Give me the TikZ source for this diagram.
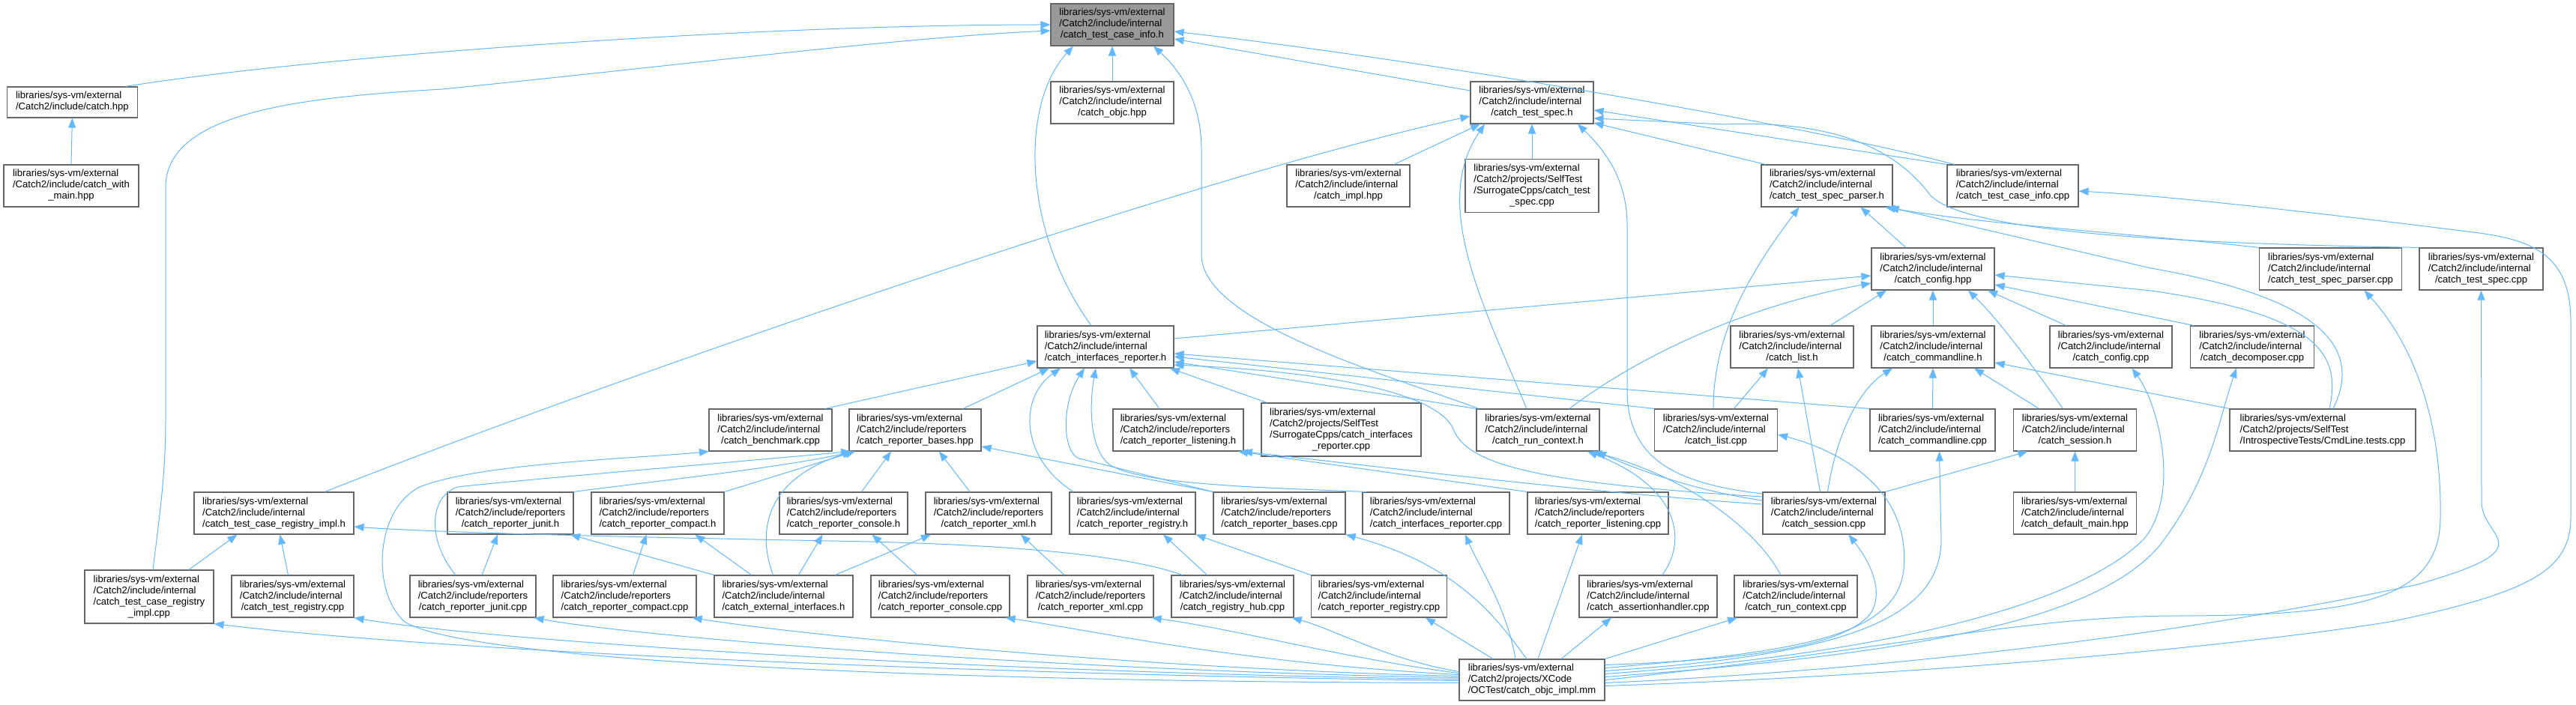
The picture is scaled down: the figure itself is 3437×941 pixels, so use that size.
\documentclass[tikz,border=0pt]{standalone}
\usepackage{fontspec}
\setmainfont{Liberation Sans}
\usetikzlibrary{arrows.meta}
\definecolor{edgeblue}{HTML}{63B8FF}
\definecolor{bordergray}{HTML}{666666}
\definecolor{rootgray}{HTML}{999999}
\newcommand{\LSV}{libraries/sys-vm/external}
\newcommand{\CII}{/Catch2/include/internal}
\newcommand{\CIR}{/Catch2/include/reporters}
\newcommand{\CPS}{/Catch2/projects/SelfTest}
\newcommand{\Lii}[2]{\begin{tabular}{@{}l@{}}#1\\\multicolumn{1}{@{}c@{}}{#2}\end{tabular}}
\newcommand{\Liii}[3]{\begin{tabular}{@{}l@{}}#1\\#2\\\multicolumn{1}{@{}c@{}}{#3}\end{tabular}}
\newcommand{\Liv}[4]{\begin{tabular}{@{}l@{}}#1\\#2\\#3\\\multicolumn{1}{@{}c@{}}{#4}\end{tabular}}
\tikzset{
  box/.style={draw=bordergray, fill=white, line width=1.1pt, inner sep=0pt, text=black,
    font=\fontsize{13.1pt}{15pt}\selectfont},
  root/.style={box, fill=rootgray},
  hII/.style={minimum height=41pt},
  hIII/.style={minimum height=56pt},
  hIV/.style={minimum height=71pt},
  edge/.style={draw=edgeblue, line width=1pt, -{Triangle[length=13pt,width=10pt]}},
}
\begin{document}
\begin{tikzpicture}[x=1pt,y=-1pt]
\fill[white] (0,0) rectangle (3437,941);
\useasboundingbox (0,0) rectangle (3437,941);
% rank 0
\node[root,hIII,minimum width=164pt] (M) at (1484,33) {\Liii{\LSV}{\CII}{/catch\_test\_case\_info.h}};
% rank 1
\node[box,hII,minimum width=174pt] (chpp) at (96.4,136.5) {\Lii{\LSV}{/Catch2/include/catch.hpp}};
\node[box,hIII,minimum width=164pt] (objc) at (1484,137) {\Liii{\LSV}{\CII}{/catch\_objc.hpp}};
\node[box,hIII,minimum width=164pt] (TS) at (2044,137) {\Liii{\LSV}{\CII}{/catch\_test\_spec.h}};
% rank 2
\node[box,hIII,minimum width=180pt] (cwm) at (95,248) {\Liii{\LSV}{/Catch2/include/catch\_with}{\_main.hpp}};
\node[box,hIII,minimum width=164pt] (impl) at (1799,248) {\Liii{\LSV}{\CII}{/catch\_impl.hpp}};
\node[box,hIV,minimum width=178pt] (sctsc) at (2044,248) {\Liv{\LSV}{\CPS}{/SurrogateCpps/catch\_test}{\_spec.cpp}};
\node[box,hIII,minimum width=175pt] (TSP) at (2437.5,248) {\Liii{\LSV}{\CII}{/catch\_test\_spec\_parser.h}};
\node[box,hIII,minimum width=175pt] (tcicpp) at (2685.5,248) {\Liii{\LSV}{\CII}{/catch\_test\_case\_info.cpp}};
% rank 3
\node[box,hIII,minimum width=164pt] (CFG) at (2579,359) {\Liii{\LSV}{\CII}{/catch\_config.hpp}};
\node[box,hIII,minimum width=190pt] (tspcpp) at (3109.5,359) {\Liii{\LSV}{\CII}{/catch\_test\_spec\_parser.cpp}};
\node[box,hIII,minimum width=165pt] (tscpp) at (3310.5,359) {\Liii{\LSV}{\CII}{/catch\_test\_spec.cpp}};
% rank 4
\node[box,hIII,minimum width=182pt] (IR) at (1475,463) {\Liii{\LSV}{\CII}{/catch\_interfaces\_reporter.h}};
\node[box,hIII,minimum width=164pt] (LH) at (2391,463) {\Liii{\LSV}{\CII}{/catch\_list.h}};
\node[box,hIII,minimum width=164pt] (CLH) at (2579,463) {\Liii{\LSV}{\CII}{/catch\_commandline.h}};
\node[box,hIII,minimum width=163pt] (cfgcpp) at (2816.5,463) {\Liii{\LSV}{\CII}{/catch\_config.cpp}};
\node[box,hIII,minimum width=165pt] (dec) at (3005,463) {\Liii{\LSV}{\CII}{/catch\_decomposer.cpp}};
% rank 5
\node[box,hIII,minimum width=164pt] (bench) at (1028,574) {\Liii{\LSV}{\CII}{/catch\_benchmark.cpp}};
\node[box,hIII,minimum width=176pt] (RBH) at (1221,574) {\Liii{\LSV}{\CIR}{/catch\_reporter\_bases.hpp}};
\node[box,hIII,minimum width=174pt] (RLH) at (1572,574) {\Liii{\LSV}{\CIR}{/catch\_reporter\_listening.h}};
\node[box,hIV,minimum width=213pt] (scir) at (1789.5,573.5) {\Liv{\LSV}{\CPS}{/SurrogateCpps/catch\_interfaces}{\_reporter.cpp}};
\node[box,hIII,minimum width=164pt] (RCH) at (2052,574) {\Liii{\LSV}{\CII}{/catch\_run\_context.h}};
\node[box,hIII,minimum width=164pt] (lcpp) at (2289.5,574) {\Liii{\LSV}{\CII}{/catch\_list.cpp}};
\node[box,hIII,minimum width=167pt] (clcpp) at (2578.5,574) {\Liii{\LSV}{\CII}{/catch\_commandline.cpp}};
\node[box,hIII,minimum width=164pt] (SH) at (2768.5,574) {\Liii{\LSV}{\CII}{/catch\_session.h}};
\node[box,hIII,minimum width=248pt] (cmdl) at (3099,574) {\Liii{\LSV}{\CPS}{/IntrospectiveTests/CmdLine.tests.cpp}};
% rank 6
\node[box,hIII,minimum width=213pt] (RIH) at (365.5,685) {\Liii{\LSV}{\CII}{/catch\_test\_case\_registry\_impl.h}};
\node[box,hIII,minimum width=168pt] (junh) at (681,685) {\Liii{\LSV}{\CIR}{/catch\_reporter\_junit.h}};
\node[box,hIII,minimum width=177pt] (comh) at (877.5,685) {\Liii{\LSV}{\CIR}{/catch\_reporter\_compact.h}};
\node[box,hIII,minimum width=171pt] (conh) at (1125.5,685) {\Liii{\LSV}{\CIR}{/catch\_reporter\_console.h}};
\node[box,hIII,minimum width=168pt] (xmlh) at (1319,685) {\Liii{\LSV}{\CIR}{/catch\_reporter\_xml.h}};
\node[box,hIII,minimum width=168pt] (rrh) at (1511,685) {\Liii{\LSV}{\CII}{/catch\_reporter\_registry.h}};
\node[box,hIII,minimum width=176pt] (rbcpp) at (1707,685) {\Liii{\LSV}{\CIR}{/catch\_reporter\_bases.cpp}};
\node[box,hIII,minimum width=196pt] (ircpp) at (1916,685) {\Liii{\LSV}{\CII}{/catch\_interfaces\_reporter.cpp}};
\node[box,hIII,minimum width=188pt] (rlcpp) at (2132,685) {\Liii{\LSV}{\CIR}{/catch\_reporter\_listening.cpp}};
\node[box,hIII,minimum width=163pt] (scpp) at (2433.5,685) {\Liii{\LSV}{\CII}{/catch\_session.cpp}};
\node[box,hIII,minimum width=164pt] (dmain) at (2768.5,685) {\Liii{\LSV}{\CII}{/catch\_default\_main.hpp}};
% rank 7
\node[box,hIV,minimum width=172pt] (ricpp) at (199,796.5) {\Liv{\LSV}{\CII}{/catch\_test\_case\_registry}{\_impl.cpp}};
\node[box,hIII,minimum width=163pt] (trcpp) at (390.5,796) {\Liii{\LSV}{\CII}{/catch\_test\_registry.cpp}};
\node[box,hIII,minimum width=168pt] (juncpp) at (631,796) {\Liii{\LSV}{\CIR}{/catch\_reporter\_junit.cpp}};
\node[box,hIII,minimum width=191pt] (comcpp) at (833.5,796) {\Liii{\LSV}{\CIR}{/catch\_reporter\_compact.cpp}};
\node[box,hIII,minimum width=185pt] (extif) at (1045.5,796) {\Liii{\LSV}{\CII}{/catch\_external\_interfaces.h}};
\node[box,hIII,minimum width=185pt] (concpp) at (1254.5,796) {\Liii{\LSV}{\CIR}{/catch\_reporter\_console.cpp}};
\node[box,hIII,minimum width=168pt] (xmlcpp) at (1455,796) {\Liii{\LSV}{\CIR}{/catch\_reporter\_xml.cpp}};
\node[box,hIII,minimum width=163pt] (rhub) at (1644.5,796) {\Liii{\LSV}{\CII}{/catch\_registry\_hub.cpp}};
\node[box,hIII,minimum width=181pt] (rrcpp) at (1840,796) {\Liii{\LSV}{\CII}{/catch\_reporter\_registry.cpp}};
\node[box,hIII,minimum width=184pt] (ahcpp) at (2199,796) {\Liii{\LSV}{\CII}{/catch\_assertionhandler.cpp}};
\node[box,hIII,minimum width=164pt] (rccpp) at (2396,796) {\Liii{\LSV}{\CII}{/catch\_run\_context.cpp}};
% rank 8
\node[box,minimum height=55pt,minimum width=194pt] (B) at (2044,907.5) {\Liii{\LSV}{/Catch2/projects/XCode}{/OCTest/catch\_objc\_impl.mm}};

% ---------- edges into M
\draw[edge] (cwm.north) -- (chpp.south);
\draw[edge] ([xshift=71pt]chpp.north) .. controls (420,75) and (1000,33) .. (M.west);
\draw[edge] ([xshift=5pt]ricpp.north) .. controls (214,680) and (221,630) .. (221,560) -- (221,250) .. controls (221,150) and (400,130) .. (590,119) .. controls (900,88) and (1200,50) .. ([yshift=-8pt]M.west);
\draw[edge] (objc.north) -- (M.south);
\draw[edge] ([xshift=-19pt]IR.north) .. controls (1365,310) and (1360,140) .. ([xshift=-52pt]M.south);
\draw[edge] ([xshift=-79pt]RCH.north) .. controls (1850,500) and (1603,430) .. (1603,340) -- (1603,200) .. controls (1603,130) and (1570,90) .. ([xshift=55pt]M.south);
\draw[edge] ([yshift=16pt]TS.west) -- ([yshift=-19pt]M.east);
\draw[edge] ([xshift=-78pt]tcicpp.north) .. controls (2400,165) and (1900,80) .. ([yshift=-9pt]M.east);
% ---------- edges into TS
\draw[edge] ([xshift=68pt]RIH.north) .. controls (733,537) and (1562,243) .. ([yshift=-18pt]TS.west);
\draw[edge] ([xshift=61pt]impl.north) -- ([xshift=-69pt]TS.south);
\draw[edge] ([xshift=-15pt]RCH.north) .. controls (1975,400) and (1910,270) .. ([xshift=-63pt]TS.south);
\draw[edge] (sctsc.north) -- (TS.south);
\draw[edge] ([yshift=26pt]scpp.west) .. controls (2230,645) and (2171,610) .. (2171,520) -- (2171,300) .. controls (2171,230) and (2130,190) .. ([xshift=61pt]TS.south);
\draw[edge] (tcicpp.north west) -- ([yshift=-10pt]TS.east);
\draw[edge] (tscpp.north west) .. controls (2900,325) and (2620,310) .. (2575,260) .. controls (2530,200) and (2450,160) .. (2300,166) -- ([yshift=-21pt]TS.east);
\draw[edge] ([xshift=-82pt]TSP.north) -- ([yshift=-27pt]TS.east);
% ---------- edges into TSP
\draw[edge] ([xshift=-36pt]CFG.north) -- ([xshift=45pt]TSP.south);
\draw[edge] ([xshift=-3.5pt]lcpp.north) .. controls (2286,450) and (2330,370) .. ([xshift=-37pt]TSP.south);
\draw[edge] (tspcpp.north west) .. controls (2850,312) and (2650,300) .. ([xshift=78pt]TSP.south);
\draw[edge] ([xshift=14pt]cmdl.north) .. controls (3150,470) and (3110,400) .. (2870,358) -- ([xshift=83pt]TSP.south);
% ---------- edges into CFG
\draw[edge] ([yshift=11pt]IR.east) -- ([yshift=-9pt]CFG.west);
\draw[edge] ([xshift=42pt]RCH.north) .. controls (2180,480) and (2320,410) .. ([yshift=-19pt]CFG.west);
\draw[edge] ([xshift=51pt]LH.north) -- ([xshift=-62pt]CFG.south);
\draw[edge] (CLH.north) -- (CFG.south);
\draw[edge] ([xshift=-16pt]SH.north) .. controls (2720,500) and (2670,430) .. ([xshift=47pt]CFG.south);
\draw[edge] ([xshift=-60pt]cfgcpp.north) -- ([xshift=73pt]CFG.south);
\draw[edge] ([xshift=9pt]cmdl.north) .. controls (3125,470) and (3090,420) .. (2870,388) -- ([yshift=-8pt]CFG.east);
\draw[edge] ([xshift=-78pt]dec.north) -- ([yshift=-21pt]CFG.east);
% ---------- edges into LH, CLH, SH
\draw[edge] ([xshift=24pt]lcpp.north) -- ([xshift=-32pt]LH.south);
\draw[edge] ([xshift=-5pt]scpp.north) -- ([xshift=8pt]LH.south);
\draw[edge] ([xshift=5pt]scpp.north) .. controls (2450,580) and (2480,520) .. ([xshift=-54pt]CLH.south);
\draw[edge] (clcpp.north) -- (CLH.south);
\draw[edge] ([xshift=-48pt]SH.north) -- ([xshift=55pt]CLH.south);
\draw[edge] (cmdl.north west) -- ([yshift=-21pt]CLH.east);
\draw[edge] (scpp.north east) -- ([xshift=-63pt]SH.south);
\draw[edge] (dmain.north) -- (SH.south);
% ---------- edges into IR
\draw[edge] ([xshift=73pt]bench.north) -- ([yshift=-19pt]IR.west);
\draw[edge] ([xshift=64pt]RBH.north) -- ([xshift=-75pt]IR.south);
\draw[edge] ([xshift=-79pt]rrh.north) .. controls (1360,610) and (1360,530) .. ([xshift=-60pt]IR.south);
\draw[edge] (rbcpp.north west) -- (1440,612) .. controls (1418,605) and (1415,540) .. ([xshift=-28pt]IR.south);
\draw[edge] ([xshift=-93pt]ircpp.north) .. controls (1650,650) and (1520,645) .. (1480,620) .. controls (1450,595) and (1455,530) .. ([xshift=-13pt]IR.south);
\draw[edge] ([xshift=-25pt]RLH.north) -- ([xshift=32pt]IR.south);
\draw[edge] ([xshift=-99pt]scir.north) -- ([xshift=86pt]IR.south);
\draw[edge] (lcpp.north west) -- ([yshift=-13pt]IR.east);
\draw[edge] (clcpp.north west) -- ([yshift=-9pt]IR.east);
\draw[edge] (RCH.north west) -- ([yshift=-20pt]IR.east);
\draw[edge] ([yshift=22pt]scpp.west) .. controls (2050,645) and (1960,620) .. (1940,575) .. controls (1920,520) and (1750,495) .. ([yshift=-24pt]IR.east);
% ---------- edges into RBH
\draw[edge] ([xshift=24pt]conh.north) -- ([xshift=-32pt]RBH.south);
\draw[edge] ([xshift=-25pt]xmlh.north) -- ([xshift=32pt]RBH.south);
\draw[edge] (rbcpp.north west) -- ([yshift=-22pt]RBH.east);
\draw[edge] (junh.north east) .. controls (850,645) and (1040,625) .. ([xshift=-82pt]RBH.south);
\draw[edge] (comh.north east) -- ([xshift=-80pt]RBH.south);
\draw[edge] ([xshift=-14pt]extif.north) .. controls (1010,710) and (1020,640) .. ([xshift=-84pt]RBH.south);
\draw[edge] ([xshift=-23pt]juncpp.north) .. controls (572,725) and (570,665) .. (610,650) .. controls (700,640) and (1000,615) .. ([xshift=-86pt]RBH.south);
% ---------- edges into rank 6 reporter headers
\draw[edge] ([xshift=12pt]juncpp.north) -- ([xshift=-17pt]junh.south);
\draw[edge] (extif.north west) -- ([xshift=80pt]junh.south);
\draw[edge] ([xshift=11pt]comcpp.north) -- ([xshift=-15pt]comh.south);
\draw[edge] ([xshift=-43pt]extif.north) -- ([xshift=50pt]comh.south);
\draw[edge] ([xshift=-31pt]concpp.north) -- ([xshift=38pt]conh.south);
\draw[edge] ([xshift=20pt]extif.north) -- ([xshift=-28pt]conh.south);
\draw[edge] ([xshift=69pt]extif.north) -- ([xshift=-77pt]xmlh.south);
\draw[edge] ([xshift=-35pt]xmlcpp.north) -- ([xshift=43pt]xmlh.south);
\draw[edge] ([xshift=-34pt]rhub.north) -- ([xshift=41pt]rrh.south);
\draw[edge] (rrcpp.north west) -- (rrh.south east);
% ---------- edges into RIH
\draw[edge] ([xshift=53pt]ricpp.north) -- ([xshift=-49pt]RIH.south);
\draw[edge] ([xshift=-6pt]trcpp.north) -- ([xshift=8pt]RIH.south);
\draw[edge] ([xshift=-67pt]rhub.north) .. controls (1500,740) and (1350,728) .. (1160,723) .. controls (900,718) and (600,712) .. ([yshift=-18pt]RIH.east);
% ---------- edges into RCH, RLH
\draw[edge] ([yshift=17pt]scpp.west) .. controls (2260,655) and (2180,625) .. ([xshift=78pt]RCH.south);
\draw[edge] ([xshift=-20pt]rccpp.north) .. controls (2345,710) and (2260,640) .. ([xshift=72pt]RCH.south);
\draw[edge] ([xshift=19pt]ahcpp.north) .. controls (2252,720) and (2240,650) .. ([xshift=66pt]RCH.south);
\draw[edge] (rlcpp.north west) -- ([xshift=80pt]RLH.south);
\draw[edge] ([yshift=12pt]scpp.west) .. controls (2150,660) and (1900,630) .. ([xshift=86pt]RLH.south);
% ---------- edges from B (catch_objc_impl.mm)
\draw[edge] ([yshift=-1pt]B.west) .. controls (1300,900) and (600,870) .. (ricpp.south east);
\draw[edge] ([yshift=1pt]B.west) .. controls (1300,898) and (650,855) .. (trcpp.south east);
\draw[edge] ([yshift=3pt]B.west) .. controls (1400,895) and (850,850) .. ([xshift=-3pt]juncpp.south east);
\draw[edge] ([yshift=5pt]B.west) .. controls (1500,892) and (1050,845) .. ([xshift=-6pt]comcpp.south east);
\draw[edge] ([yshift=7pt]B.west) .. controls (1650,885) and (1450,840) .. ([xshift=-6pt]concpp.south east);
\draw[edge] ([yshift=9pt]B.west) .. controls (1800,880) and (1650,840) .. ([xshift=-3pt]xmlcpp.south east);
\draw[edge] ([yshift=11pt]B.west) .. controls (1850,880) and (1780,840) .. ([xshift=-3pt]rhub.south east);
\draw[edge] ([yshift=-4pt]B.west) .. controls (1200,910) and (620,880) .. (540,830) .. controls (495,790) and (500,680) .. (560,650) .. controls (640,618) and (850,612) .. ([xshift=-82pt]bench.south);
\draw[edge] ([xshift=-52pt]B.north) -- ([xshift=62pt]rrcpp.south);
\draw[edge] ([xshift=-7pt]B.north) .. controls (2000,830) and (1950,755) .. (rbcpp.south east);
\draw[edge] ([xshift=-22pt]B.north) .. controls (2010,810) and (1975,760) .. ([xshift=39pt]ircpp.south);
\draw[edge] ([xshift=8pt]B.north) -- ([xshift=-21pt]rlcpp.south);
\draw[edge] ([xshift=39pt]B.north) -- ([xshift=-49pt]ahcpp.south);
\draw[edge] (B.north east) -- ([xshift=-78pt]rccpp.south);
\draw[edge] ([yshift=20pt]B.east) .. controls (2350,880) and (2460,860) .. (2495,820) .. controls (2515,790) and (2495,750) .. ([xshift=33pt]scpp.south);
\draw[edge] ([yshift=16pt]B.east) .. controls (2400,870) and (2530,850) .. (2540,760) .. controls (2550,650) and (2450,600) .. ([yshift=-6pt]lcpp.east);
\draw[edge] ([yshift=12pt]B.east) .. controls (2450,875) and (2590,830) .. (2590,720) -- ([xshift=9pt]clcpp.south);
\draw[edge] ([yshift=8pt]B.east) .. controls (2550,870) and (2780,800) .. (2860,720) .. controls (2910,660) and (2880,540) .. ([xshift=28pt]cfgcpp.south);
\draw[edge] ([yshift=4pt]B.east) .. controls (2600,870) and (2800,820) .. (2880,730) .. controls (2950,640) and (2960,560) .. ([xshift=-21pt]dec.south);
\draw[edge] (B.east) .. controls (2500,870) and (2700,823) .. (2900,822) .. controls (3150,822) and (3256,800) .. (3256,690) .. controls (3258,560) and (3220,460) .. ([xshift=45pt]tspcpp.south);
\draw[edge] ([yshift=-4pt]B.east) .. controls (2500,895) and (2900,850) .. (3226,780) .. controls (3400,730) and (3311,720) .. (3311,670) -- (tscpp.south);
\draw[edge] ([yshift=-8pt]B.east) .. controls (2600,900) and (3000,860) .. (3189,830) .. controls (3380,790) and (3430,760) .. (3430,690) -- (3430,430) .. controls (3430,340) and (3380,320) .. (3300,310) .. controls (3100,285) and (2900,262) .. ([yshift=-7pt]tcicpp.east);
\end{tikzpicture}
\end{document}
